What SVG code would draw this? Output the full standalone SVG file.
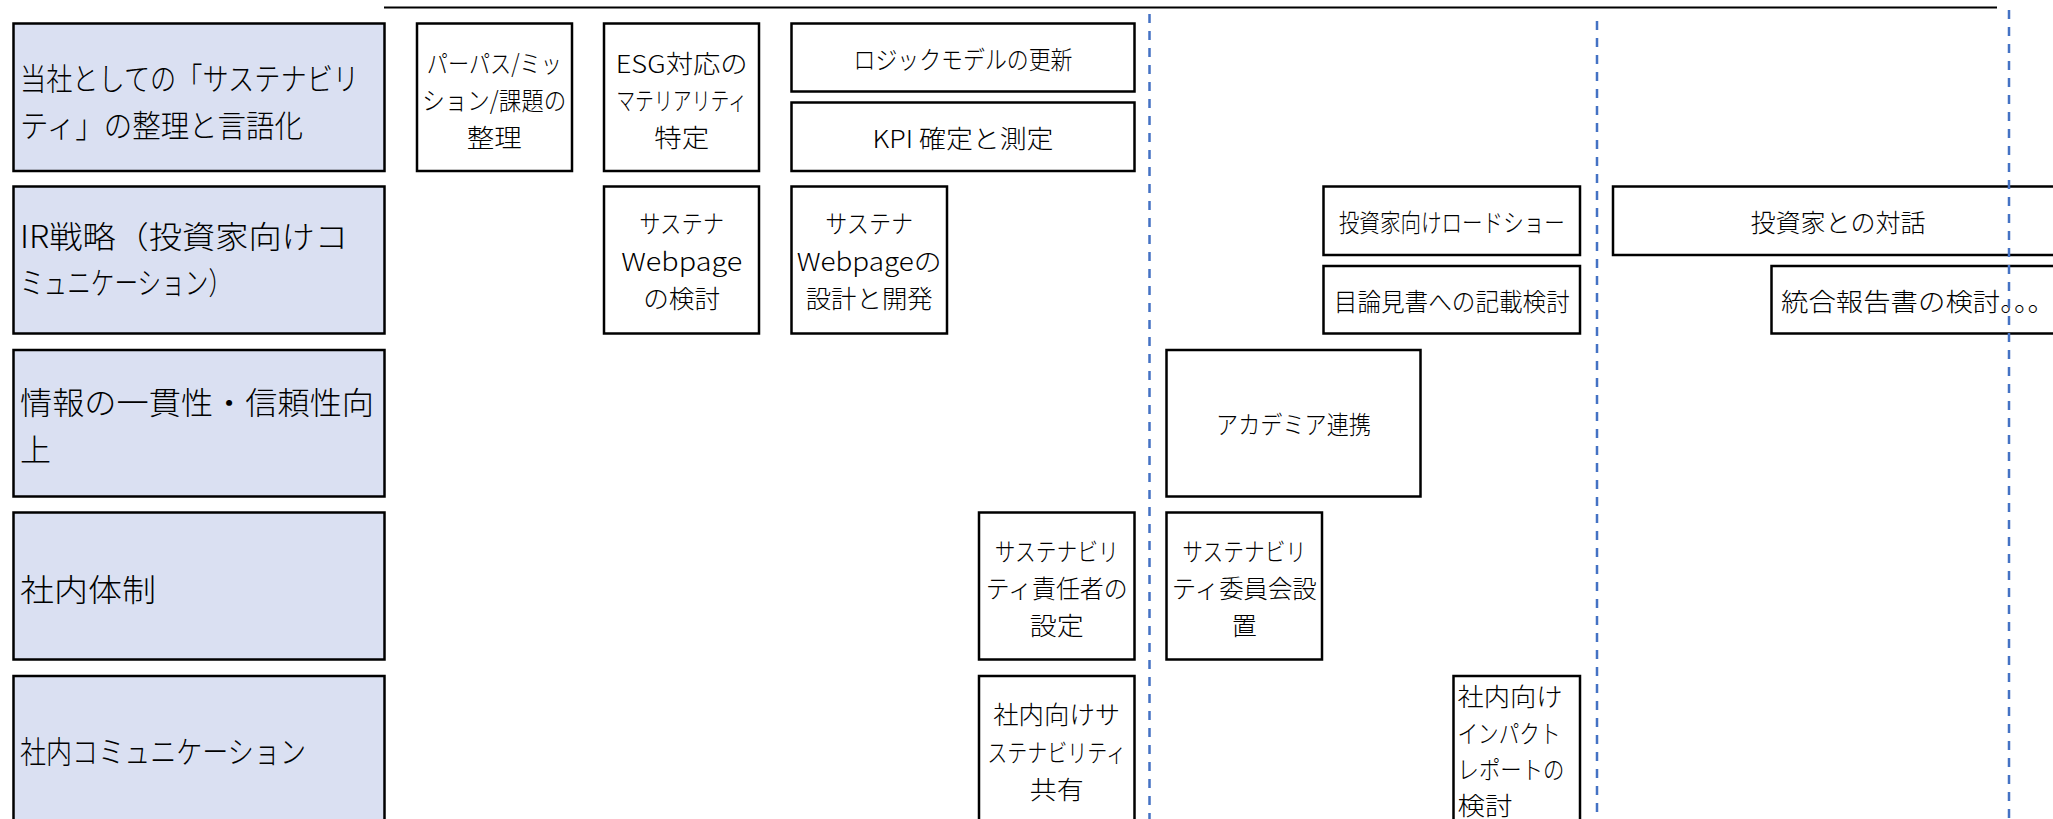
<svg xmlns="http://www.w3.org/2000/svg" width="2053" height="819" viewBox="0 0 2053 819">
<style>
.lbl rect{fill:#DAE0F2;stroke:#000;stroke-width:2.5}
.box rect{fill:#fff;stroke:#000;stroke-width:2.5}
text{font-family:"Noto Sans CJK JP","Noto Sans",sans-serif;font-weight:300;fill:#000;dominant-baseline:central}
.lt{font-size:31px}
.bt{font-size:25px;text-anchor:middle}
.bl{font-size:25px;text-anchor:start}
.sep{stroke:#4472C4;stroke-width:2.5;stroke-dasharray:9 8;fill:none}
.top{stroke:#000;stroke-width:2;fill:none}
</style>
<rect x="0" y="0" width="2053" height="819" fill="#fff"/>

<!-- Row labels -->
<g id="label-1" class="lbl">
<rect x="13.5" y="23.5" width="371" height="147.5"/>
<text class="lt" x="20" y="76" textLength="339" lengthAdjust="spacingAndGlyphs">当社としての「サステナビリ</text>
<text class="lt" x="20" y="123" textLength="283" lengthAdjust="spacingAndGlyphs">ティ」の整理と言語化</text>
</g>
<g id="label-2" class="lbl">
<rect x="13.5" y="186.5" width="371" height="147"/>
<text class="lt" x="20" y="234" textLength="328" lengthAdjust="spacingAndGlyphs">IR戦略（投資家向けコ</text>
<text class="lt" x="20" y="280" textLength="212" lengthAdjust="spacingAndGlyphs">ミュニケーション）</text>
</g>
<g id="label-3" class="lbl">
<rect x="13.5" y="350" width="371" height="146.5"/>
<text class="lt" x="20" y="400" textLength="354" lengthAdjust="spacingAndGlyphs">情報の一貫性・信頼性向</text>
<text class="lt" x="20" y="447">上</text>
</g>
<g id="label-4" class="lbl">
<rect x="13.5" y="512.5" width="371" height="147"/>
<text class="lt" x="20" y="587" textLength="136" lengthAdjust="spacingAndGlyphs">社内体制</text>
</g>
<g id="label-5" class="lbl">
<rect x="13.5" y="676" width="371" height="147"/>
<text class="lt" x="20" y="749" textLength="286" lengthAdjust="spacingAndGlyphs">社内コミュニケーション</text>
</g>

<!-- Row 1 -->
<g id="purpose" class="box">
<rect x="417" y="23.5" width="155" height="147.5"/>
<text class="bt" x="494.3" y="62" textLength="135" lengthAdjust="spacingAndGlyphs">パーパス/ミッ</text>
<text class="bt" x="494.3" y="99" textLength="144" lengthAdjust="spacingAndGlyphs">ション/課題の</text>
<text class="bt" x="494.3" y="136" textLength="55" lengthAdjust="spacingAndGlyphs">整理</text>
</g>
<g id="esg" class="box">
<rect x="604" y="23.5" width="155" height="147.5"/>
<text class="bt" x="681.7" y="62" textLength="132" lengthAdjust="spacingAndGlyphs">ESG対応の</text>
<text class="bt" x="681.7" y="99" textLength="131" lengthAdjust="spacingAndGlyphs">マテリアリティ</text>
<text class="bt" x="681.7" y="136" textLength="55" lengthAdjust="spacingAndGlyphs">特定</text>
</g>
<g id="logic-model" class="box">
<rect x="791.5" y="23.5" width="343" height="68"/>
<text class="bt" x="963" y="58" textLength="219" lengthAdjust="spacingAndGlyphs">ロジックモデルの更新</text>
</g>
<g id="kpi" class="box">
<rect x="791.5" y="102.5" width="343" height="68.5"/>
<text class="bt" x="963" y="136.7" textLength="181" lengthAdjust="spacingAndGlyphs">KPI 確定と測定</text>
</g>

<!-- Row 2 -->
<g id="webpage-study" class="box">
<rect x="604" y="186.5" width="155" height="147"/>
<text class="bt" x="681.7" y="222" textLength="85" lengthAdjust="spacingAndGlyphs">サステナ</text>
<text class="bt" x="681.7" y="259.5" textLength="121" lengthAdjust="spacingAndGlyphs">Webpage</text>
<text class="bt" x="681.7" y="297" textLength="77" lengthAdjust="spacingAndGlyphs">の検討</text>
</g>
<g id="webpage-dev" class="box">
<rect x="791.5" y="186.5" width="155.5" height="147"/>
<text class="bt" x="869.2" y="222" textLength="88" lengthAdjust="spacingAndGlyphs">サステナ</text>
<text class="bt" x="869.2" y="259.5" textLength="145" lengthAdjust="spacingAndGlyphs">Webpageの</text>
<text class="bt" x="869.2" y="297" textLength="127" lengthAdjust="spacingAndGlyphs">設計と開発</text>
</g>
<g id="roadshow" class="box">
<rect x="1323.5" y="186.5" width="256.5" height="68.5"/>
<text class="bt" x="1451.8" y="220.7" textLength="226" lengthAdjust="spacingAndGlyphs">投資家向けロードショー</text>
</g>
<g id="prospectus" class="box">
<rect x="1323.5" y="266" width="256.5" height="67.5"/>
<text class="bt" x="1451.8" y="299.7" textLength="236" lengthAdjust="spacingAndGlyphs">目論見書への記載検討</text>
</g>
<g id="dialogue" class="box">
<rect x="1613" y="186.5" width="460" height="68.5"/>
<text class="bt" x="1838" y="220.7" textLength="175" lengthAdjust="spacingAndGlyphs">投資家との対話</text>
</g>
<g id="integrated-report" class="box">
<rect x="1771.5" y="266" width="300" height="67.5"/>
<text class="bl" x="1781" y="299.7" textLength="274" lengthAdjust="spacingAndGlyphs">統合報告書の検討。。。</text>
</g>

<!-- Row 3 -->
<g id="academia" class="box">
<rect x="1166.5" y="350" width="254" height="146.5"/>
<text class="bt" x="1293.5" y="423" textLength="155" lengthAdjust="spacingAndGlyphs">アカデミア連携</text>
</g>

<!-- Row 4 -->
<g id="officer" class="box">
<rect x="979" y="512.5" width="155.5" height="147"/>
<text class="bt" x="1056.7" y="550" textLength="124" lengthAdjust="spacingAndGlyphs">サステナビリ</text>
<text class="bt" x="1056.7" y="587" textLength="142" lengthAdjust="spacingAndGlyphs">ティ責任者の</text>
<text class="bt" x="1056.7" y="623.5" textLength="54" lengthAdjust="spacingAndGlyphs">設定</text>
</g>
<g id="committee" class="box">
<rect x="1166.5" y="512.5" width="155.5" height="147"/>
<text class="bt" x="1244.3" y="550" textLength="124" lengthAdjust="spacingAndGlyphs">サステナビリ</text>
<text class="bt" x="1244.3" y="587" textLength="145" lengthAdjust="spacingAndGlyphs">ティ委員会設</text>
<text class="bt" x="1244.3" y="623.5">置</text>
</g>

<!-- Row 5 -->
<g id="internal-share" class="box">
<rect x="979" y="676" width="155.5" height="150"/>
<text class="bt" x="1056.7" y="713" textLength="127" lengthAdjust="spacingAndGlyphs">社内向けサ</text>
<text class="bt" x="1056.7" y="750.5" textLength="139" lengthAdjust="spacingAndGlyphs">ステナビリティ</text>
<text class="bt" x="1056.7" y="787.5" textLength="54" lengthAdjust="spacingAndGlyphs">共有</text>
</g>
<g id="impact-report" class="box">
<rect x="1453.5" y="676" width="126.5" height="150"/>
<text class="bl" x="1457.5" y="695" textLength="105" lengthAdjust="spacingAndGlyphs">社内向け</text>
<text class="bl" x="1457.5" y="731.5" textLength="103" lengthAdjust="spacingAndGlyphs">インパクト</text>
<text class="bl" x="1457.5" y="768" textLength="107" lengthAdjust="spacingAndGlyphs">レポートの</text>
<text class="bl" x="1457.5" y="804" textLength="55" lengthAdjust="spacingAndGlyphs">検討</text>
</g>

<!-- Guide lines -->
<g id="connectors">
<line class="top" x1="384" y1="7.5" x2="1997" y2="7.5"/>
<line class="sep" x1="1149.5" y1="14" x2="1149.5" y2="819"/>
<line class="sep" x1="1597" y1="21" x2="1597" y2="819"/>
<line class="sep" x1="2009" y1="10" x2="2009" y2="819"/>
</g>
</svg>
